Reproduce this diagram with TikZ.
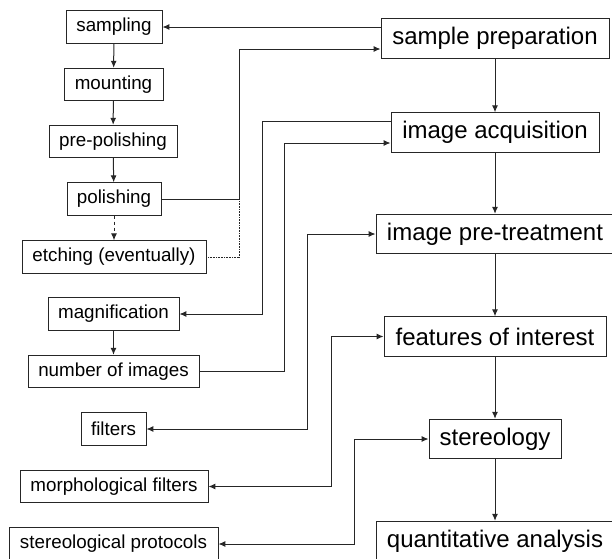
\documentclass[tikz,border=0pt]{standalone}
\usepackage{fontspec}
\setmainfont{Liberation Sans}
\usetikzlibrary{arrows.meta}
\begin{document}
\begin{tikzpicture}[x=1pt,y=-1pt,
  box/.style={draw=black!85,line width=0.9pt,inner sep=0pt,align=center},
  smallbox/.style={box,minimum height=32.5pt,font=\fontsize{18.8}{22}\selectfont},
  bigbox/.style={box,minimum height=39.5pt,font=\fontsize{24}{28}\selectfont},
  link/.style={draw=black!85,line width=1pt},
  arr/.style={link,-{Latex[length=7pt,width=6pt]}},
  darr/.style={link,{Latex[length=7pt,width=6pt]}-{Latex[length=7pt,width=6pt]}}]
\useasboundingbox (0,0) rectangle (612,558);
\clip (0,0) rectangle (612,558);
% left column
\node[smallbox,minimum width=96pt]  (sampling) at (114,27)    {sampling};
\node[smallbox,minimum width=99pt]  (mounting) at (113.5,84.5) {mounting};
\node[smallbox,minimum width=128pt] (prepol)   at (113,141.5) {pre-polishing};
\node[smallbox,minimum width=94pt]  (polish)   at (114,199)   {polishing};
\node[smallbox,minimum width=184pt] (etch)     at (114,257)   {etching (eventually)};
\node[smallbox,minimum width=131pt] (mag)      at (113.5,314) {magnification};
\node[smallbox,minimum width=171pt] (numimg)   at (113.5,371.5) {number of images};
\node[smallbox,minimum width=65pt]  (filters)  at (113.5,429) {filters};
\node[smallbox,minimum width=188pt] (morph)    at (114,486.5) {morphological filters};
\node[smallbox,minimum width=209pt] (stprot)   at (113.5,544) {stereological protocols};
% right column
\node[bigbox,minimum width=228pt] (sp)    at (495,38.5)  {sample preparation};
\node[bigbox,minimum width=208pt] (ia)    at (495,132.5) {image acquisition};
\node[bigbox,minimum width=238pt] (pt)    at (495,234)   {image pre-treatment};
\node[bigbox,minimum width=222pt] (foi)   at (495,336.5) {features of interest};
\node[bigbox,minimum width=132pt] (ster)  at (495,439)   {stereology};
\node[bigbox,minimum width=238pt] (qa)    at (495,541)   {quantitative analysis};
% main chain
\draw[arr] (sp) -- (ia);
\draw[arr] (ia) -- (pt);
\draw[arr] (pt) -- (foi);
\draw[arr] (foi) -- (ster);
\draw[arr] (ster) -- (qa);
% preparation chain
\draw[arr] (sampling) -- (mounting);
\draw[arr] (mounting) -- (prepol);
\draw[arr] (prepol) -- (polish);
\draw[arr,dash pattern=on 3.5pt off 2.5pt] (polish) -- (etch);
\draw[arr] (mag) -- (numimg);
% side links
\draw[arr] (sp.west |- sampling.east) -- (sampling.east);
\coordinate (j1) at (239,199);
\draw[arr] (polish.east) -- (j1) |- ([yshift=-10.5pt]sp.west);
\draw[link,line width=0.6pt,densely dotted] (etch.east) -| (j1);
\coordinate (j2) at (262,314);
\draw[arr] ([yshift=11.5pt]ia.west) -| (j2) -- (mag.east);
\coordinate (j3) at (284,371.5);
\draw[arr] (numimg.east) -- (j3) |- ([yshift=-10.5pt]ia.west);
\coordinate (j4) at (307,429);
\draw[darr] (pt.west) -| (j4) -- (filters.east);
\coordinate (j5) at (331,486.5);
\draw[darr] (foi.west) -| (j5) -- (morph.east);
\coordinate (j6) at (354,544);
\draw[darr] (ster.west) -| (j6) -- (stprot.east);
\end{tikzpicture}
\end{document}
